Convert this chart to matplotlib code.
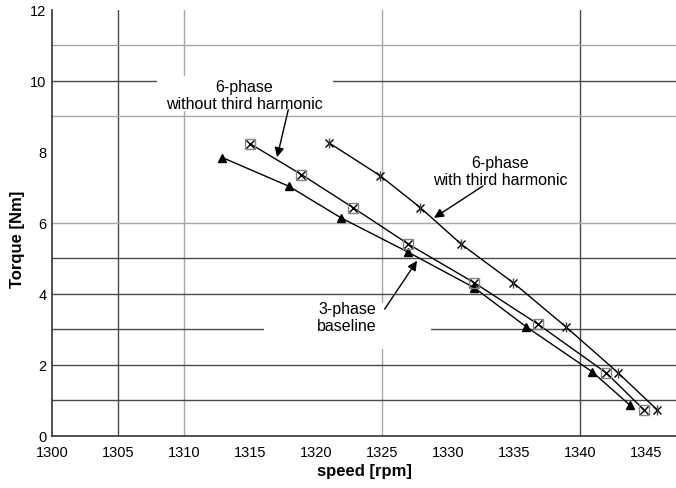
import matplotlib
matplotlib.use("Agg")
import matplotlib.pyplot as plt
from matplotlib.patches import Rectangle

plt.rcParams['font.family'] = ['Liberation Sans', 'DejaVu Sans']

# Data
speed_3ph = [1312.9, 1317.95, 1321.9, 1326.95, 1332.0, 1335.9, 1340.9, 1343.8]
torque_3ph = [7.83, 7.02, 6.13, 5.17, 4.16, 3.07, 1.80, 0.85]

speed_6ph = [1315.0, 1318.9, 1322.8, 1327.0, 1332.0, 1336.8, 1342.0, 1344.85]
torque_6ph = [8.22, 7.35, 6.42, 5.39, 4.30, 3.14, 1.76, 0.72]

speed_6ph3 = [1321.0, 1324.85, 1327.9, 1331.0, 1334.95, 1338.9, 1342.9, 1345.85]
torque_6ph3 = [8.24, 7.32, 6.42, 5.39, 4.30, 3.07, 1.76, 0.72]

x_ticks = [1300, 1305, 1310, 1315, 1320, 1325, 1330, 1335, 1340, 1345]
y_ticks = [0, 2, 4, 6, 8, 10, 12]
x_grid = [1305, 1310, 1325, 1340]
y_grid = [1, 2, 3, 4, 5, 6, 9, 10, 11]

dark, light = '#4a4a4a', '#a8a8a8'
x_grid_col = [dark, light, light, dark]
y_grid_col = [dark, dark, dark, dark, dark, light, light, dark, light]

fig = plt.figure(figsize=(6.76, 4.89), dpi=100)
ax = fig.add_axes([52/676, (489-436.5)/489, 1-52/676, 426/489])
ax.set_xlim(1300, 1347.27)
ax.set_ylim(0, 12)

for gx, c in zip(x_grid, x_grid_col):
    ax.axvline(gx, color=c, lw=1, zorder=0)
for gy, c in zip(y_grid, y_grid_col):
    ax.axhline(gy, color=c, lw=1, zorder=0)

# white label boxes that hide the grid behind the annotations
ax.add_patch(Rectangle((1307.95, 9.14), 13.35, 0.98, facecolor='white',
                       edgecolor='none', zorder=1))
ax.add_patch(Rectangle((1316.06, 2.44), 12.65, 1.30, facecolor='white',
                       edgecolor='none', zorder=1))

# 3-phase baseline
ax.plot(speed_3ph, torque_3ph, color='black', lw=1, marker='^', ms=5.5,
        mfc='black', mec='black', zorder=4)
# 6-phase without third harmonic
ax.plot(speed_6ph, torque_6ph, color='black', lw=1, zorder=4)
ax.plot(speed_6ph, torque_6ph, ls='none', marker='s', ms=7, mfc='none',
        mec='#888888', mew=1, zorder=5)
ax.plot(speed_6ph, torque_6ph, ls='none', marker='x', ms=5.5, mec='black',
        mew=1, zorder=5)
# 6-phase with third harmonic
ax.plot(speed_6ph3, torque_6ph3, color='black', lw=1, zorder=4)
ax.plot(speed_6ph3, torque_6ph3, ls='none', marker='x', ms=5.5, mec='black',
        mew=1, zorder=5)
ax.plot(speed_6ph3, torque_6ph3, ls='none', marker='|', ms=7, mec='#444444',
        mew=1, zorder=5)

ax.set_xticks(x_ticks)
ax.set_yticks(y_ticks)
ax.tick_params(length=0, labelsize=10.5, colors='black')
ax.tick_params(axis='x', pad=7)
ax.tick_params(axis='y', pad=4)
for s in ['top', 'right']:
    ax.spines[s].set_visible(False)
for s in ['left', 'bottom']:
    ax.spines[s].set_color('#333333')
    ax.spines[s].set_linewidth(1.2)

ax.set_xlabel('speed [rpm]', fontsize=12, fontweight='bold', labelpad=3)
ax.set_ylabel('Torque [Nm]', fontsize=12, fontweight='bold')
ax.yaxis.set_label_coords(-0.044, 0.4636)

ax.text(1314.55, 9.6, '6-phase\nwithout third harmonic', ha='center', va='center',
        fontsize=11.5, linespacing=1.15, zorder=3)
ax.text(1333.94, 7.45, '6-phase\nwith third harmonic', ha='center', va='center',
        fontsize=11.5, linespacing=1.15, zorder=3)
ax.text(1322.35, 3.33, '3-phase\nbaseline', ha='center', va='center',
        fontsize=11.5, linespacing=1.15, zorder=3)

arr = dict(arrowstyle='-|>', color='black', lw=1, mutation_scale=14,
           shrinkA=0, shrinkB=0)
ax.annotate('', xy=(1317.05, 7.84), xytext=(1317.9, 9.18), arrowprops=arr, zorder=6)
ax.annotate('', xy=(1328.94, 6.13), xytext=(1332.65, 7.03), arrowprops=arr, zorder=6)
ax.annotate('', xy=(1327.65, 4.92), xytext=(1325.2, 3.56), arrowprops=arr, zorder=6)

fig.savefig('out.png', dpi=100)
